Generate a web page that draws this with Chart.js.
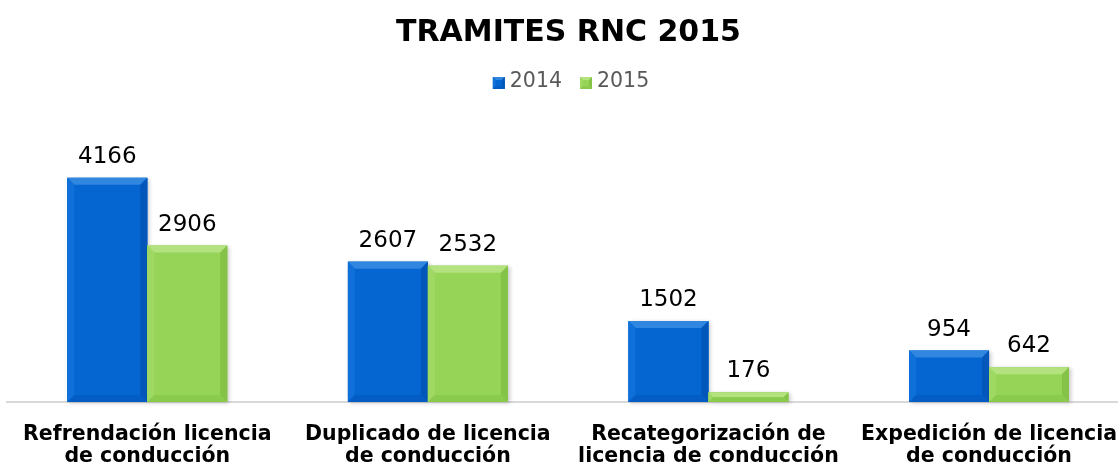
<!DOCTYPE html>
<html><head><meta charset="utf-8">
<script src="https://cdn.jsdelivr.net/npm/chart.js@4.4.0/dist/chart.umd.min.js"></script>
<style>html,body{margin:0;padding:0;overflow:hidden;background:#fff;width:1118px;height:467px}
#wrap{position:absolute;left:0;top:0;width:1130px;height:467px}</style></head>
<body><div id="wrap"><canvas id="c"></canvas></div>
<script>
const titleText = "TRAMITES RNC 2015";
const categories = [["Refrendación licencia","de conducción"],["Duplicado de licencia","de conducción"],["Recategorización de","licencia de conducción"],["Expedición de licencia","de conducción"]];
const seriesNames = ["2014","2015"];
const values2014 = [4166,2607,1502,954];
const values2015 = [2906,2532,176,642];
const yMin = 0, yMax = 5000;

const palette = [
  {main:'#0566d2', top:'#3186e0', left:'#0f70d9', right:'#0457ba', bottom:'#045dc4'},
  {main:'#96d457', top:'#b3e27f', left:'#9fd964', right:'#84c248', bottom:'#8acb4e'}
];
const FONT = "'DejaVu Sans', Verdana, sans-serif";

function bevelRect(ctx, l, t, r, b, pal, bev) {
  const h = b - t, w = r - l;
  const s = Math.max(0, Math.min(bev, h / 2, w / 2));
  ctx.save();
  ctx.fillStyle = pal.main;
  ctx.fillRect(l, t, w, h);
  if (s > 0) {
    const poly = (pts, col) => { ctx.beginPath(); ctx.moveTo(pts[0][0], pts[0][1]); for (let i=1;i<pts.length;i++) ctx.lineTo(pts[i][0], pts[i][1]); ctx.closePath(); ctx.fillStyle = col; ctx.fill(); };
    poly([[l,t],[r,t],[r-s,t+s],[l+s,t+s]], pal.top);
    poly([[l,t],[l+s,t+s],[l+s,b-s],[l,b]], pal.left);
    poly([[r,t],[r,b],[r-s,b-s],[r-s,t+s]], pal.right);
    poly([[l,b],[l+s,b-s],[r-s,b-s],[r,b]], pal.bottom);
  }
  ctx.restore();
}

const bevelBars = {
  id: 'bevelBars',
  afterDatasetsDraw(chart) {
    const ctx = chart.ctx;
    chart.data.datasets.forEach((ds, di) => {
      const meta = chart.getDatasetMeta(di);
      meta.data.forEach((bar, i) => {
        const p = bar.getProps(['x','y','base','width'], true);
        const l = p.x - p.width/2, r = p.x + p.width/2;
        const t = Math.min(p.y, p.base), b = Math.max(p.y, p.base);
        ctx.save();
        ctx.shadowColor = 'rgba(0,0,0,0.22)';
        ctx.shadowBlur = 4; ctx.shadowOffsetX = 2; ctx.shadowOffsetY = 1;
        ctx.fillStyle = palette[di].main;
        ctx.fillRect(l, t, r-l, b-t);
        ctx.restore();
        bevelRect(ctx, l, t, r, b, palette[di], 7);
        ctx.save();
        ctx.font = '23px ' + FONT;
        ctx.fillStyle = '#000';
        ctx.textAlign = 'center';
        ctx.textBaseline = 'alphabetic';
        ctx.fillText(String(ds.data[i]), p.x, t - 15);
        ctx.restore();
      });
    });
  }
};

const customLegend = {
  id: 'customLegend',
  afterDraw(chart) {
    const ctx = chart.ctx;
    ctx.save();
    ctx.font = '20.5px ' + FONT;
    const box = 12, gapText = 5, gapItem = 18;
    const widths = seriesNames.map(n => ctx.measureText(n).width);
    let total = 0;
    widths.forEach((w, i) => { total += box + gapText + w + (i < widths.length-1 ? gapItem : 0); });
    let x = 571 - total/2;
    const cy = 82;
    seriesNames.forEach((n, i) => {
      bevelRect(ctx, x, cy - box/2 + 1, x + box, cy + box/2 + 1, palette[i], 3);
      ctx.fillStyle = '#595959';
      ctx.textAlign = 'left';
      ctx.textBaseline = 'middle';
      ctx.fillText(n, x + box + gapText, cy);
      x += box + gapText + widths[i] + gapItem;
    });
    ctx.restore();
  }
};

new Chart(document.getElementById('c'), {
  type: 'bar',
  data: {
    labels: categories,
    datasets: [
      {label: seriesNames[0], data: values2014, backgroundColor: 'rgba(0,0,0,0)'},
      {label: seriesNames[1], data: values2015, backgroundColor: 'rgba(0,0,0,0)'}
    ]
  },
  options: {
    responsive: true,
    maintainAspectRatio: false,
    animation: false,
    devicePixelRatio: 1,
    categoryPercentage: 0.57,
    barPercentage: 1.0,
    layout: {padding: {left: 7, right: 0, top: 0, bottom: -14}},
    plugins: {
      legend: {display: false},
      tooltip: {enabled: false},
      title: {
        display: true, text: titleText, color: '#000',
        font: {family: FONT, size: 30, weight: 'bold', lineHeight: 1.2},
        padding: {top: 15, bottom: 82}
      }
    },
    scales: {
      x: {
        grid: {display: false},
        border: {display: true, color: '#d9d9d9', width: 2},
        ticks: {color: '#000', font: {family: FONT, size: 20.5, weight: 'bold', lineHeight: 1.1}, padding: 13, maxRotation: 0, autoSkip: false}
      },
      y: {display: false, min: yMin, max: yMax}
    }
  },
  plugins: [bevelBars, customLegend]
});
</script>
</body></html>
